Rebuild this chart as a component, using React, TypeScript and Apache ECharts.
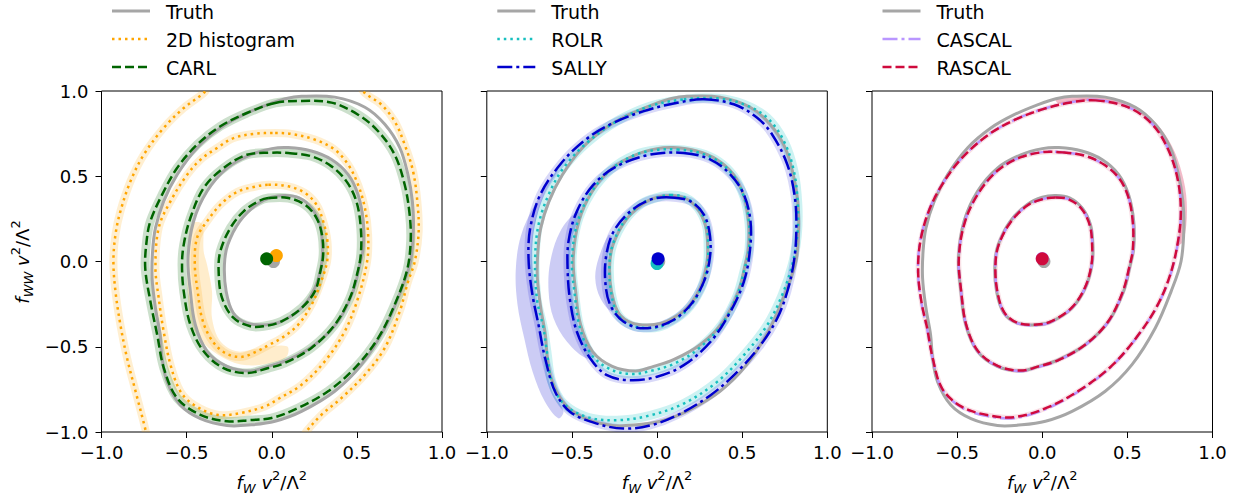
import React, { useEffect, useRef } from "react";
import * as echarts from "echarts";

type Pt = [number, number];

// ---------- data ----------
const xTicks = [-1, -0.5, 0, 0.5, 1];

const truthOuter: Pt[] = [[0.08, 0.955], [0.175, 0.969], [0.37, 0.964], [0.547, 0.905], [0.664, 0.805], [0.752, 0.668], [0.8, 0.509], [0.826, 0.353], [0.832, 0.197], [0.815, 0.0], [0.757, -0.175], [0.664, -0.39], [0.527, -0.605], [0.37, -0.761], [0.175, -0.879], [0.019, -0.937], [-0.12, -0.958], [-0.263, -0.962], [-0.419, -0.922], [-0.537, -0.842], [-0.615, -0.705], [-0.644, -0.566], [-0.656, -0.429], [-0.683, -0.273], [-0.703, -0.097], [-0.7, 0.06], [-0.683, 0.197], [-0.635, 0.353], [-0.556, 0.509], [-0.439, 0.666], [-0.302, 0.783], [-0.165, 0.861], [-0.02, 0.922]];
const truthMiddle: Pt[] = [[0.097, 0.668], [0.233, 0.648], [0.351, 0.598], [0.449, 0.51], [0.507, 0.392], [0.537, 0.236], [0.537, 0.079], [0.517, -0.02], [0.478, -0.175], [0.39, -0.351], [0.253, -0.488], [0.097, -0.576], [-0.02, -0.615], [-0.126, -0.642], [-0.263, -0.615], [-0.38, -0.527], [-0.449, -0.371], [-0.478, -0.175], [-0.492, 0.02], [-0.459, 0.236], [-0.38, 0.412], [-0.263, 0.548], [-0.126, 0.626], [0.0, 0.662]];
const truthInner: Pt[] = [[0.08, 0.387], [0.16, 0.374], [0.234, 0.314], [0.283, 0.216], [0.297, 0.099], [0.292, -0.019], [0.253, -0.155], [0.175, -0.273], [0.058, -0.351], [-0.028, -0.371], [-0.146, -0.361], [-0.226, -0.302], [-0.268, -0.175], [-0.278, -0.019], [-0.258, 0.099], [-0.188, 0.236], [-0.087, 0.335], [0.0, 0.377]];

const histInner: Pt[] = [[-0.02, 0.45], [0.097, 0.441], [0.195, 0.402], [0.263, 0.333], [0.302, 0.236], [0.327, 0.118], [0.325, 0.0], [0.283, -0.136], [0.234, -0.253], [0.155, -0.371], [0.058, -0.449], [-0.02, -0.491], [-0.087, -0.527], [-0.185, -0.56], [-0.283, -0.531], [-0.36, -0.449], [-0.41, -0.331], [-0.435, -0.175], [-0.452, -0.019], [-0.439, 0.138], [-0.38, 0.236], [-0.302, 0.333], [-0.204, 0.408], [-0.107, 0.437]];
const histMiddle: Pt[] = [[0.02, 0.754], [0.116, 0.748], [0.253, 0.715], [0.37, 0.656], [0.449, 0.568], [0.507, 0.45], [0.547, 0.314], [0.566, 0.157], [0.56, 0.0], [0.507, -0.214], [0.429, -0.409], [0.312, -0.585], [0.175, -0.723], [0.04, -0.805], [-0.04, -0.85], [-0.185, -0.889], [-0.321, -0.899], [-0.459, -0.84], [-0.537, -0.761], [-0.595, -0.605], [-0.635, -0.409], [-0.664, -0.214], [-0.683, -0.038], [-0.664, 0.197], [-0.595, 0.353], [-0.497, 0.509], [-0.419, 0.597], [-0.321, 0.666], [-0.224, 0.724], [-0.107, 0.748]];
const histOuterLeft: Pt[] = [[-0.37, 1.03], [-0.4, 0.988], [-0.517, 0.9], [-0.635, 0.783], [-0.752, 0.626], [-0.83, 0.47], [-0.889, 0.294], [-0.918, 0.157], [-0.93, 0.0], [-0.918, -0.175], [-0.889, -0.371], [-0.85, -0.566], [-0.8, -0.761], [-0.742, -0.986], [-0.735, -1.03]];
const histOuterRight: Pt[] = [[0.52, 1.03], [0.547, 0.988], [0.644, 0.92], [0.722, 0.822], [0.781, 0.685], [0.83, 0.529], [0.855, 0.353], [0.863, 0.177], [0.84, 0.0], [0.8, -0.12], [0.752, -0.292], [0.664, -0.507], [0.547, -0.664], [0.409, -0.801], [0.292, -0.899], [0.204, -0.996], [0.19, -1.03]];
const histBandInner: Pt[] = [[-0.47, 0.22], [-0.494, 0.06], [-0.494, -0.175], [-0.468, -0.371], [-0.4, -0.478], [-0.283, -0.566], [-0.146, -0.609], [0.02, -0.589], [0.089, -0.556], [0.089, -0.497], [-0.087, -0.511], [-0.204, -0.527], [-0.302, -0.468], [-0.351, -0.331], [-0.351, -0.175], [-0.38, -0.019], [-0.4, 0.06], [-0.41, 0.22]];

const carlOuter: Pt[] = [[0.02, 0.93], [0.175, 0.942], [0.351, 0.932], [0.507, 0.861], [0.625, 0.764], [0.722, 0.626], [0.781, 0.45], [0.81, 0.275], [0.816, 0.119], [0.795, -0.05], [0.722, -0.253], [0.625, -0.449], [0.488, -0.625], [0.331, -0.761], [0.155, -0.859], [-0.001, -0.918], [-0.126, -0.93], [-0.263, -0.937], [-0.419, -0.899], [-0.556, -0.801], [-0.634, -0.625], [-0.673, -0.429], [-0.713, -0.233], [-0.743, -0.04], [-0.735, 0.12], [-0.713, 0.236], [-0.644, 0.392], [-0.556, 0.548], [-0.439, 0.685], [-0.302, 0.793], [-0.146, 0.871]];
const carlMiddle: Pt[] = [[0.097, 0.636], [0.233, 0.617], [0.351, 0.558], [0.439, 0.47], [0.497, 0.353], [0.523, 0.197], [0.523, 0.04], [0.5, -0.08], [0.459, -0.214], [0.37, -0.371], [0.233, -0.507], [0.077, -0.595], [-0.02, -0.625], [-0.146, -0.654], [-0.283, -0.625], [-0.4, -0.527], [-0.478, -0.371], [-0.517, -0.175], [-0.527, -0.019], [-0.517, 0.099], [-0.478, 0.255], [-0.4, 0.431], [-0.283, 0.548], [-0.146, 0.626], [-0.009, 0.638]];
const carlInner: Pt[] = [[-0.02, 0.372], [0.097, 0.372], [0.195, 0.333], [0.263, 0.255], [0.295, 0.157], [0.302, 0.04], [0.285, -0.06], [0.253, -0.175], [0.175, -0.273], [0.058, -0.351], [-0.048, -0.38], [-0.126, -0.38], [-0.224, -0.331], [-0.292, -0.214], [-0.312, -0.057], [-0.302, 0.06], [-0.243, 0.197], [-0.165, 0.294], [-0.075, 0.355]];

const rolrOuter: Pt[] = [[0.157, 0.951], [0.353, 0.957], [0.51, 0.922], [0.647, 0.843], [0.745, 0.706], [0.804, 0.529], [0.827, 0.333], [0.824, 0.157], [0.794, -0.02], [0.735, -0.196], [0.647, -0.373], [0.51, -0.549], [0.353, -0.706], [0.157, -0.833], [-0.039, -0.902], [-0.235, -0.931], [-0.412, -0.912], [-0.549, -0.833], [-0.618, -0.706], [-0.647, -0.529], [-0.667, -0.392], [-0.706, -0.216], [-0.716, 0.02], [-0.696, 0.216], [-0.637, 0.392], [-0.549, 0.549], [-0.412, 0.696], [-0.235, 0.824], [-0.039, 0.912]];
const rolrMiddle: Pt[] = [[0.118, 0.657], [0.25, 0.637], [0.36, 0.588], [0.451, 0.5], [0.51, 0.38], [0.54, 0.23], [0.54, 0.07], [0.515, -0.04], [0.47, -0.2], [0.38, -0.37], [0.245, -0.51], [0.1, -0.6], [-0.03, -0.64], [-0.15, -0.66], [-0.28, -0.63], [-0.39, -0.54], [-0.455, -0.38], [-0.485, -0.18], [-0.5, 0.0], [-0.47, 0.22], [-0.39, 0.4], [-0.27, 0.54], [-0.13, 0.625], [0.0, 0.655]];
const rolrInner: Pt[] = [[0.08, 0.39], [0.165, 0.375], [0.24, 0.315], [0.29, 0.21], [0.3, 0.09], [0.295, -0.03], [0.255, -0.165], [0.17, -0.29], [0.05, -0.37], [-0.04, -0.39], [-0.15, -0.375], [-0.23, -0.31], [-0.27, -0.18], [-0.28, -0.02], [-0.26, 0.1], [-0.19, 0.24], [-0.09, 0.34], [0.0, 0.375]];

const sallyOuter: Pt[] = [[0.275, 0.951], [0.451, 0.922], [0.588, 0.843], [0.676, 0.745], [0.765, 0.569], [0.81, 0.373], [0.818, 0.176], [0.804, 0.0], [0.765, -0.176], [0.706, -0.333], [0.608, -0.49], [0.471, -0.647], [0.314, -0.784], [0.118, -0.902], [-0.039, -0.961], [-0.196, -0.98], [-0.353, -0.951], [-0.51, -0.882], [-0.598, -0.765], [-0.657, -0.569], [-0.696, -0.373], [-0.735, -0.176], [-0.755, 0.02], [-0.745, 0.196], [-0.686, 0.392], [-0.569, 0.569], [-0.431, 0.706], [-0.275, 0.804], [-0.078, 0.882], [0.118, 0.931]];
const sallyMiddle: Pt[] = [[0.157, 0.637], [0.314, 0.598], [0.431, 0.51], [0.51, 0.392], [0.549, 0.235], [0.545, 0.059], [0.51, -0.118], [0.431, -0.294], [0.314, -0.471], [0.157, -0.608], [0.0, -0.676], [-0.157, -0.696], [-0.294, -0.667], [-0.392, -0.569], [-0.471, -0.412], [-0.51, -0.235], [-0.525, -0.059], [-0.52, 0.118], [-0.471, 0.294], [-0.373, 0.451], [-0.235, 0.559], [-0.039, 0.627]];
const sallyInner: Pt[] = [[0.078, 0.376], [0.196, 0.353], [0.275, 0.275], [0.31, 0.157], [0.31, 0.02], [0.275, -0.118], [0.196, -0.255], [0.078, -0.353], [-0.078, -0.392], [-0.196, -0.353], [-0.275, -0.255], [-0.304, -0.118], [-0.298, 0.039], [-0.255, 0.176], [-0.157, 0.294], [-0.039, 0.363]];
const sallyBandOuter: Pt[] = [[-0.6, 0.52], [-0.72, 0.33], [-0.8, 0.15], [-0.83, -0.05], [-0.82, -0.25], [-0.78, -0.45], [-0.73, -0.65], [-0.66, -0.82], [-0.58, -0.92], [-0.55, -0.88], [-0.62, -0.75], [-0.66, -0.57], [-0.69, -0.38], [-0.72, -0.18], [-0.735, 0.02], [-0.72, 0.2], [-0.66, 0.4], [-0.58, 0.54]];
const sallyBandMiddle: Pt[] = [[-0.471, 0.294], [-0.569, 0.176], [-0.627, 0.0], [-0.637, -0.176], [-0.608, -0.333], [-0.529, -0.471], [-0.412, -0.569], [-0.373, -0.529], [-0.451, -0.412], [-0.49, -0.255], [-0.51, -0.059], [-0.5, 0.137], [-0.451, 0.275]];
const sallyBandInner: Pt[] = [[-0.284, 0.157], [-0.343, 0.02], [-0.363, -0.098], [-0.333, -0.216], [-0.265, -0.294], [-0.245, -0.235], [-0.284, -0.118], [-0.29, 0.02], [-0.265, 0.137]];

const rascalOuter: Pt[] = [[0.314, 0.945], [0.51, 0.902], [0.647, 0.804], [0.735, 0.667], [0.794, 0.49], [0.814, 0.294], [0.794, 0.098], [0.745, -0.098], [0.667, -0.275], [0.549, -0.451], [0.412, -0.608], [0.235, -0.745], [0.039, -0.853], [-0.157, -0.912], [-0.314, -0.902], [-0.471, -0.853], [-0.588, -0.745], [-0.643, -0.569], [-0.676, -0.392], [-0.71, -0.235], [-0.729, -0.059], [-0.716, 0.118], [-0.667, 0.294], [-0.588, 0.451], [-0.471, 0.608], [-0.314, 0.745], [-0.157, 0.833], [0.0, 0.892], [0.157, 0.931]];
const rascalMiddle: Pt[] = [[0.118, 0.64], [0.25, 0.62], [0.36, 0.57], [0.45, 0.49], [0.505, 0.38], [0.532, 0.23], [0.532, 0.07], [0.512, -0.03], [0.472, -0.18], [0.385, -0.355], [0.25, -0.49], [0.095, -0.578], [-0.02, -0.615], [-0.13, -0.64], [-0.262, -0.612], [-0.378, -0.525], [-0.447, -0.37], [-0.476, -0.175], [-0.49, 0.02], [-0.455, 0.23], [-0.375, 0.4], [-0.26, 0.535], [-0.125, 0.612], [0.01, 0.642]];
const rascalInner: Pt[] = [[0.08, 0.375], [0.155, 0.365], [0.232, 0.308], [0.28, 0.21], [0.293, 0.095], [0.289, -0.02], [0.25, -0.155], [0.172, -0.272], [0.056, -0.35], [-0.03, -0.37], [-0.145, -0.36], [-0.222, -0.3], [-0.264, -0.175], [-0.275, -0.02], [-0.255, 0.1], [-0.185, 0.232], [-0.088, 0.328], [0.0, 0.365]];
const rascalBand: Pt[] = [[0.08, 0.955], [0.3, 0.975], [0.5, 0.925], [0.65, 0.83], [0.76, 0.68], [0.83, 0.48], [0.85, 0.3], [0.83, 0.12], [0.8, 0.1], [0.814, 0.294], [0.794, 0.49], [0.735, 0.667], [0.647, 0.804], [0.51, 0.902], [0.314, 0.945], [0.1, 0.925]];

const cascalOuter: Pt[] = [[0.314, 0.947], [0.51, 0.903], [0.647, 0.806], [0.736, 0.668], [0.795, 0.49], [0.815, 0.294], [0.795, 0.098], [0.746, -0.098], [0.668, -0.275], [0.55, -0.451], [0.412, -0.61], [0.235, -0.748], [0.039, -0.857], [-0.157, -0.917], [-0.314, -0.908], [-0.471, -0.857], [-0.588, -0.748], [-0.644, -0.569], [-0.677, -0.392], [-0.711, -0.235], [-0.73, -0.059], [-0.717, 0.118], [-0.668, 0.294], [-0.589, 0.451], [-0.472, 0.608], [-0.315, 0.745], [-0.158, 0.833], [0.0, 0.893], [0.157, 0.932]];
const cascalMiddle: Pt[] = [[0.118, 0.641], [0.25, 0.621], [0.36, 0.571], [0.45, 0.49], [0.505, 0.38], [0.533, 0.23], [0.533, 0.07], [0.513, -0.03], [0.473, -0.18], [0.386, -0.356], [0.25, -0.492], [0.095, -0.58], [-0.02, -0.618], [-0.13, -0.643], [-0.262, -0.614], [-0.379, -0.526], [-0.448, -0.37], [-0.477, -0.175], [-0.491, 0.02], [-0.456, 0.23], [-0.376, 0.4], [-0.26, 0.536], [-0.125, 0.613], [0.01, 0.643]];
const cascalInner: Pt[] = [[0.08, 0.376], [0.155, 0.366], [0.233, 0.308], [0.281, 0.21], [0.294, 0.095], [0.29, -0.02], [0.251, -0.156], [0.172, -0.274], [0.056, -0.353], [-0.03, -0.374], [-0.145, -0.363], [-0.223, -0.302], [-0.265, -0.175], [-0.276, -0.02], [-0.256, 0.1], [-0.186, 0.232], [-0.088, 0.329], [0.0, 0.366]];

const truthBest: Pt = [0.01, 0.0];
const histBest: Pt = [0.027, 0.035];
const carlBest: Pt = [-0.03, 0.016];
const rolrBest: Pt = [0.0, -0.012];
const sallyBest: Pt = [0.006, 0.016];
const cascalBest: Pt = [0.0, 0.018];
const rascalBest: Pt = [0.0, 0.016];

const legendNames = [
  ["Truth", "2D histogram", "CARL"],
  ["Truth", "ROLR", "SALLY"],
  ["Truth", "CASCAL", "RASCAL"],
];

// ---------- styles ----------
const FONT = "'DejaVu Sans', sans-serif";
const TRUTH = "#a6a6a6";
const ORANGE = "#ffa500";
const GREEN = "#006400";
const CYAN = "#17bfbf";
const BLUE = "#0000cd";
const PURPLE = "#b996ff";
const RED = "#cf0a3d";
const DASHED = [9, 4];
const DOTTED = [2.5, 4];
const DASHDOT = [15, 4, 3, 4];

const gridLefts = [101.5, 486.8, 872];
const GRID_TOP = 91;
const GRID_W = 340.5;
const GRID_H = 341;

function curve(pts: Pt[], g: number, stroke: string, width: number, dash: number[] | null, closed = true): any {
  return {
    type: "custom",
    xAxisIndex: g,
    yAxisIndex: g,
    silent: true,
    clip: true,
    data: pts,
    renderItem: (params: any, api: any) => {
      if (params.dataIndex !== 0) return null;
      const p = pts.map((d) => api.coord(d));
      return {
        type: closed ? "polygon" : "polyline",
        shape: { points: p, smooth: 0.35 },
        style: { fill: "none", stroke, lineWidth: width, lineDash: dash || undefined, lineCap: "butt" },
      };
    },
  };
}

function area(pts: Pt[], g: number, fill: string): any {
  return {
    type: "custom",
    xAxisIndex: g,
    yAxisIndex: g,
    silent: true,
    clip: true,
    data: pts,
    renderItem: (params: any, api: any) => {
      if (params.dataIndex !== 0) return null;
      const p = pts.map((d) => api.coord(d));
      return { type: "polygon", shape: { points: p, smooth: 0.35 }, style: { fill, stroke: "none" } };
    },
  };
}

function dot(pt: Pt, g: number, color: string): any {
  return {
    type: "scatter",
    xAxisIndex: g,
    yAxisIndex: g,
    silent: true,
    symbolSize: 13,
    data: [pt],
    itemStyle: { color, opacity: 1 },
  };
}

const fmt = (v: number) => (v < 0 ? "\u2212" : "") + Math.abs(v).toFixed(1);

export default function App() {
  const ref = useRef<HTMLDivElement>(null);
  useEffect(() => {
    if (!ref.current) return;
    const chart = echarts.init(ref.current, null, { renderer: "svg" });

    const grids = gridLefts.map((l) => ({
      left: l,
      top: GRID_TOP,
      width: GRID_W,
      height: GRID_H,
      show: true,
      borderColor: "#000",
      borderWidth: 1,
      backgroundColor: "transparent",
      containLabel: false,
      outerBoundsMode: "none",
    }));

    const axisCommon = (i: number, showLabel: boolean, margin: number) => ({
      gridIndex: i,
      type: "value",
      min: xTicks[0],
      max: xTicks[xTicks.length - 1],
      interval: 0.5,
      axisLine: { show: false, onZero: false },
      axisTick: { show: true, inside: false, length: 6, lineStyle: { color: "#000", width: 1 } },
      axisLabel: {
        show: showLabel,
        margin,
        fontSize: 18,
        fontFamily: FONT,
        color: "#000",
        showMinLabel: true,
        showMaxLabel: true,
        formatter: fmt,
      },
      splitLine: { show: false },
    });

    const xAxes = [0, 1, 2].map((i) => ({ ...axisCommon(i, true, 11), position: "bottom" }));
    const yAxes = [0, 1, 2].map((i) => ({ ...axisCommon(i, i === 0, 13), position: "left" }));

    const series: any[] = [
      // ---- panel 1 ----
      area(histBandInner, 0, "rgba(255,165,0,0.2)"),
      curve(histInner, 0, "rgba(255,165,0,0.18)", 8, null),
      curve(histMiddle, 0, "rgba(255,165,0,0.18)", 8, null),
      curve(histOuterLeft, 0, "rgba(255,165,0,0.18)", 8, null, false),
      curve(histOuterRight, 0, "rgba(255,165,0,0.18)", 8, null, false),
      curve(carlOuter, 0, "rgba(0,100,0,0.2)", 9, null),
      curve(carlMiddle, 0, "rgba(0,100,0,0.2)", 9, null),
      curve(carlInner, 0, "rgba(0,100,0,0.2)", 9, null),
      curve(truthOuter, 0, TRUTH, 3, null),
      curve(truthMiddle, 0, TRUTH, 3, null),
      curve(truthInner, 0, TRUTH, 3, null),
      curve(histInner, 0, ORANGE, 2.5, DOTTED),
      curve(histMiddle, 0, ORANGE, 2.5, DOTTED),
      curve(histOuterLeft, 0, ORANGE, 2.5, DOTTED, false),
      curve(histOuterRight, 0, ORANGE, 2.5, DOTTED, false),
      curve(carlOuter, 0, GREEN, 2.5, DASHED),
      curve(carlMiddle, 0, GREEN, 2.5, DASHED),
      curve(carlInner, 0, GREEN, 2.5, DASHED),
      dot(truthBest, 0, TRUTH),
      dot(histBest, 0, ORANGE),
      dot(carlBest, 0, GREEN),
      // ---- panel 2 ----
      area(sallyBandOuter, 1, "rgba(0,0,205,0.2)"),
      area(sallyBandMiddle, 1, "rgba(0,0,205,0.2)"),
      area(sallyBandInner, 1, "rgba(0,0,205,0.2)"),
      curve(rolrOuter, 1, "rgba(0,191,191,0.2)", 9, null),
      curve(rolrMiddle, 1, "rgba(0,191,191,0.2)", 9, null),
      curve(rolrInner, 1, "rgba(0,191,191,0.2)", 9, null),
      curve(sallyOuter, 1, "rgba(0,0,205,0.15)", 8, null),
      curve(sallyMiddle, 1, "rgba(0,0,205,0.15)", 8, null),
      curve(sallyInner, 1, "rgba(0,0,205,0.15)", 8, null),
      curve(truthOuter, 1, TRUTH, 3, null),
      curve(truthMiddle, 1, TRUTH, 3, null),
      curve(truthInner, 1, TRUTH, 3, null),
      curve(rolrOuter, 1, CYAN, 2.5, DOTTED),
      curve(rolrMiddle, 1, CYAN, 2.5, DOTTED),
      curve(rolrInner, 1, CYAN, 2.5, DOTTED),
      curve(sallyOuter, 1, BLUE, 2.5, DASHDOT),
      curve(sallyMiddle, 1, BLUE, 2.5, DASHDOT),
      curve(sallyInner, 1, BLUE, 2.5, DASHDOT),
      dot(truthBest, 1, TRUTH),
      dot(rolrBest, 1, CYAN),
      dot(sallyBest, 1, BLUE),
      // ---- panel 3 ----
      area(rascalBand, 2, "rgba(207,10,61,0.28)"),
      curve(rascalOuter, 2, "rgba(207,10,61,0.12)", 5, null),
      curve(rascalMiddle, 2, "rgba(207,10,61,0.12)", 5, null),
      curve(rascalInner, 2, "rgba(207,10,61,0.12)", 5, null),
      curve(truthOuter, 2, TRUTH, 3, null),
      curve(truthMiddle, 2, TRUTH, 3, null),
      curve(truthInner, 2, TRUTH, 3, null),
      curve(cascalOuter, 2, PURPLE, 2.5, DASHDOT),
      curve(cascalMiddle, 2, PURPLE, 2.5, DASHDOT),
      curve(cascalInner, 2, PURPLE, 2.5, DASHDOT),
      curve(rascalOuter, 2, RED, 2.5, DASHED),
      curve(rascalMiddle, 2, RED, 2.5, DASHED),
      curve(rascalInner, 2, RED, 2.5, DASHED),
      dot(truthBest, 2, TRUTH),
      dot(cascalBest, 2, PURPLE),
      dot(rascalBest, 2, RED),
    ];

    // legends
    const legendStyles = [
      [{ c: TRUTH, d: null, w: 3 }, { c: ORANGE, d: DOTTED, w: 2.5 }, { c: GREEN, d: DASHED, w: 2.5 }],
      [{ c: TRUTH, d: null, w: 3 }, { c: CYAN, d: DOTTED, w: 2.5 }, { c: BLUE, d: DASHDOT, w: 2.5 }],
      [{ c: TRUTH, d: null, w: 3 }, { c: PURPLE, d: DASHDOT, w: 2.5 }, { c: RED, d: DASHED, w: 2.5 }],
    ];
    const rowsY = [11, 39, 67];
    const graphic: any[] = [];
    [0, 1, 2].forEach((p) => {
      const ox = gridLefts[p] - gridLefts[0];
      legendNames[p].forEach((name, r) => {
        const st = legendStyles[p][r];
        graphic.push({
          type: "line",
          silent: true,
          shape: { x1: 112 + ox, y1: rowsY[r], x2: 150 + ox, y2: rowsY[r] },
          style: { stroke: st.c, lineWidth: st.w, lineDash: st.d || undefined },
        });
        graphic.push({
          type: "text",
          silent: true,
          x: 166 + ox,
          y: rowsY[r] + 1,
          style: { text: name, fontSize: 19, fontFamily: FONT, fill: "#000", verticalAlign: "middle", align: "left" },
        });
      });
    });

    const rich = {
      i: { fontStyle: "italic", fontSize: 18, fontFamily: FONT, lineHeight: 26, fill: "#000" },
      sub: { fontStyle: "italic", fontSize: 13, fontFamily: FONT, lineHeight: 13, verticalAlign: "bottom", fill: "#000" },
      sup: { fontSize: 13, fontFamily: FONT, lineHeight: 13, verticalAlign: "top", fill: "#000" },
      n: { fontSize: 18, fontFamily: FONT, lineHeight: 26, fill: "#000" },
    };
    [0, 1, 2].forEach((p) => {
      graphic.push({
        type: "text",
        silent: true,
        x: gridLefts[p] + GRID_W / 2,
        y: 482,
        style: {
          text: "{i|f}{sub|W}{i| v}{sup|2}{n|/Λ}{sup|2}",
          rich,
          align: "center",
          verticalAlign: "middle",
        },
      });
    });
    graphic.push({
      type: "text",
      silent: true,
      x: 22,
      y: 262,
      rotation: Math.PI / 2,
      style: {
        text: "{i|f}{sub|WW}{i| v}{sup|2}{n|/Λ}{sup|2}",
        rich,
        align: "center",
        verticalAlign: "middle",
      },
    });

    chart.setOption({
      animation: false,
      backgroundColor: "#fff",
      grid: grids,
      xAxis: xAxes,
      yAxis: yAxes,
      series,
      graphic,
    });

    return () => chart.dispose();
  }, []);

  return (
    <div
      ref={ref}
      style={{ position: "absolute", left: 0, top: 0, width: 1237, height: 497, background: "#fff" }}
    />
  );
}
